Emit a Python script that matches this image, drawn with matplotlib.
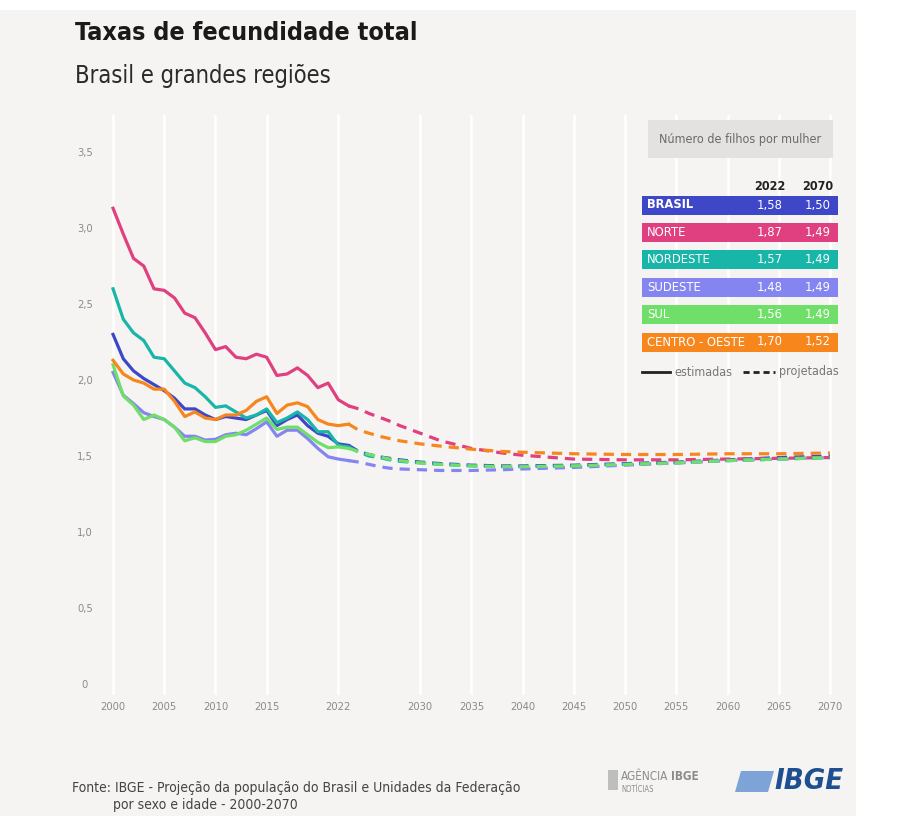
"""
Taxas de fecundidade total - Brasil e grandes regiões (2000-2070).
Estimated series to 2023 (solid), projections from 2023 (dashed).
"""

import matplotlib
matplotlib.use("Agg")
import matplotlib.pyplot as plt
from matplotlib.patches import Rectangle, Polygon

plt.rcParams["font.family"] = ["DejaVu Sans"]
plt.rcParams["font.stretch"] = "condensed"

W, H = 899, 816
BG = "#f5f4f2"

# ---- data -------------------------------------------------------------
YEARS_EST = list(range(2000, 2024))
YEARS_PROJ = [2023, 2024, 2025, 2026, 2027, 2028, 2030, 2032, 2035, 2038,
              2040, 2045, 2050, 2055, 2060, 2065, 2070]

REGIONS = ["BRASIL", "NORTE", "NORDESTE", "SUDESTE", "SUL", "CENTRO - OESTE"]
COLORS = ["#3f47c9", "#e0407f", "#18b5a9", "#8585f2", "#6fdf69", "#f7861d"]

EST_BRASIL = [2.30, 2.14, 2.06, 2.01, 1.97, 1.93, 1.88, 1.81, 1.81, 1.77, 1.74, 1.76,
              1.75, 1.74, 1.77, 1.80, 1.70, 1.74, 1.77, 1.70, 1.65, 1.63, 1.58, 1.57]
EST_NORTE = [3.13, 2.96, 2.80, 2.75, 2.60, 2.59, 2.54, 2.44, 2.41, 2.31, 2.20, 2.22,
             2.15, 2.14, 2.17, 2.15, 2.03, 2.04, 2.08, 2.03, 1.95, 1.98, 1.87, 1.83]
EST_NORDESTE = [2.60, 2.40, 2.31, 2.26, 2.15, 2.14, 2.06, 1.98, 1.95, 1.89, 1.82, 1.83,
                1.79, 1.75, 1.77, 1.81, 1.72, 1.75, 1.79, 1.74, 1.66, 1.66, 1.57, 1.56]
EST_SUDESTE = [2.05, 1.90, 1.845, 1.785, 1.76, 1.74, 1.69, 1.63, 1.63, 1.605, 1.61, 1.64,
               1.65, 1.64, 1.68, 1.725, 1.63, 1.67, 1.67, 1.615, 1.55, 1.495, 1.48, 1.47]
EST_SUL = [2.10, 1.895, 1.835, 1.74, 1.77, 1.74, 1.69, 1.60, 1.62, 1.595, 1.595, 1.63,
           1.64, 1.67, 1.71, 1.75, 1.675, 1.69, 1.69, 1.64, 1.59, 1.555, 1.56, 1.55]
EST_CO = [2.13, 2.04, 2.00, 1.98, 1.94, 1.94, 1.86, 1.76, 1.79, 1.75, 1.74, 1.77,
          1.77, 1.80, 1.86, 1.89, 1.78, 1.835, 1.85, 1.825, 1.74, 1.71, 1.70, 1.71]

PROJ_BRASIL = [1.57, 1.53, 1.51, 1.495, 1.485, 1.475, 1.46, 1.45, 1.44, 1.435,
               1.435, 1.44, 1.45, 1.46, 1.475, 1.49, 1.50]
PROJ_NORTE = [1.83, 1.81, 1.78, 1.755, 1.73, 1.70, 1.65, 1.60, 1.55, 1.52,
              1.505, 1.48, 1.475, 1.475, 1.48, 1.485, 1.49]
PROJ_NORDESTE = [1.56, 1.525, 1.50, 1.49, 1.475, 1.465, 1.455, 1.445, 1.435, 1.43,
                 1.43, 1.435, 1.445, 1.455, 1.47, 1.48, 1.49]
PROJ_SUDESTE = [1.47, 1.46, 1.445, 1.43, 1.42, 1.415, 1.41, 1.405, 1.405, 1.41,
                1.415, 1.425, 1.44, 1.455, 1.47, 1.48, 1.49]
PROJ_SUL = [1.55, 1.53, 1.51, 1.495, 1.48, 1.47, 1.455, 1.445, 1.435, 1.43,
            1.43, 1.435, 1.445, 1.455, 1.47, 1.48, 1.49]
PROJ_CO = [1.71, 1.67, 1.65, 1.63, 1.615, 1.60, 1.58, 1.565, 1.545, 1.53,
           1.525, 1.515, 1.51, 1.51, 1.515, 1.515, 1.52]

EST = [EST_BRASIL, EST_NORTE, EST_NORDESTE, EST_SUDESTE, EST_SUL, EST_CO]
PROJ = [PROJ_BRASIL, PROJ_NORTE, PROJ_NORDESTE, PROJ_SUDESTE, PROJ_SUL, PROJ_CO]

TABLE_2022 = ["1,58", "1,87", "1,57", "1,48", "1,56", "1,70"]
TABLE_2070 = ["1,50", "1,49", "1,49", "1,49", "1,49", "1,52"]

X_TICKS = [2000, 2005, 2010, 2015, 2022, 2030, 2035, 2040, 2045, 2050, 2055, 2060, 2065, 2070]
Y_TICKS = [0, 0.5, 1.0, 1.5, 2.0, 2.5, 3.0, 3.5]


def fig_box(x0, y0, x1, y1):
    """pixel box (top-left origin) -> figure fraction rect"""
    return [x0 / W, 1 - y1 / H, (x1 - x0) / W, (y1 - y0) / H]


fig = plt.figure(figsize=(W / 100, H / 100), dpi=100, facecolor="white")

# card background
bg = fig.add_axes([0, 0, 1, 1], zorder=0)
bg.set_xlim(0, W)
bg.set_ylim(H, 0)
bg.axis("off")
bg.add_patch(Rectangle((0, 10), 856, H - 10, facecolor=BG, edgecolor="none"))

# ---- main chart --------------------------------------------------------
ax = fig.add_axes(fig_box(103, 115, 840, 695), zorder=1)
ax.set_facecolor("none")
ax.set_xlim(1999.02, 2070.98)
ax.set_ylim(-0.072, (684 - 115) / 152)

for est, proj, color in zip(EST, PROJ, COLORS):
    ax.plot(YEARS_EST, est, color=color, lw=2.3, solid_joinstyle="round", zorder=3)
    ax.plot(YEARS_PROJ, proj, color=color, lw=2.3, ls=(0, (3.2, 2.2)), zorder=3)

ax.set_xticks(X_TICKS)
ax.set_xticklabels([str(t) for t in X_TICKS])
ax.set_yticks(Y_TICKS)
ax.set_yticklabels([f"{t:.1f}".replace(".", ",") if t else "0" for t in Y_TICKS])
for lab in ax.get_yticklabels():
    lab.set_horizontalalignment("center")
ax.tick_params(axis="both", length=0, labelsize=8, labelcolor="#8a8a8a")
ax.tick_params(axis="y", pad=13)
ax.tick_params(axis="x", pad=5)
ax.grid(axis="x", color="white", lw=1.8, zorder=0)
ax.set_axisbelow(True)
for spine in ax.spines.values():
    spine.set_visible(False)

# ---- overlay for titles, legend table, footer --------------------------
ov = fig.add_axes([0, 0, 1, 1], zorder=5)
ov.set_xlim(0, W)
ov.set_ylim(H, 0)
ov.axis("off")

ov.text(75, 33, "Taxas de fecundidade total", fontsize=18, fontweight="bold",
        color="#1a1a1a", va="center", ha="left")
ov.text(75, 76, "Brasil e grandes regiões", fontsize=17, color="#2a2a2a",
        va="center", ha="left")

ov.add_patch(Rectangle((648, 120), 185, 38, facecolor="#e3e2e0", edgecolor="none"))
ov.text(740.5, 139, "Número de filhos por mulher", fontsize=9, color="#6a6a6a",
        ha="center", va="center")

ov.text(770, 186, "2022", fontsize=9, fontweight="bold", color="#222222",
        ha="center", va="center")
ov.text(818, 186, "2070", fontsize=9, fontweight="bold", color="#222222",
        ha="center", va="center")

for i, (name, color, v22, v70) in enumerate(zip(REGIONS, COLORS, TABLE_2022, TABLE_2070)):
    yc = 205 + i * 27.4
    ov.add_patch(Rectangle((642, yc - 9.5), 196, 19, facecolor=color, edgecolor="none"))
    ov.text(647, yc, name, fontsize=9.3, color="white", ha="left", va="center",
            fontweight="bold" if i == 0 else "normal")
    ov.text(770, yc, v22, fontsize=9.3, color="white", ha="center", va="center")
    ov.text(818, yc, v70, fontsize=9.3, color="white", ha="center", va="center")

ov.plot([642, 670], [372, 372], color="#222222", lw=2)
ov.text(674, 372, "estimadas", fontsize=9, color="#777777", ha="left", va="center")
ov.plot([743, 775], [372, 372], color="#222222", lw=2, ls=(0, (2.2, 1.4)))
ov.text(779, 372, "projetadas", fontsize=9, color="#777777", ha="left", va="center")

ov.text(72, 788, "Fonte: IBGE - Projeção da população do Brasil e Unidades da Federação",
        fontsize=10, color="#444444", ha="left", va="center")
ov.text(113, 805, "por sexo e idade - 2000-2070", fontsize=10, color="#444444",
        ha="left", va="center")

# footer logos as text
ov.add_patch(Rectangle((608, 770), 10, 20, facecolor="#9a9a9a", edgecolor="none", alpha=0.6))
ov.text(621, 777, "AGÊNCIA", fontsize=8.5, color="#8c8c8c", ha="left", va="center")
ov.text(671, 777, "IBGE", fontsize=8.5, fontweight="bold", color="#8c8c8c", ha="left", va="center")
ov.text(621, 790, "NOTÍCIAS", fontsize=5.5, color="#8c8c8c", ha="left", va="center")
ov.add_patch(Polygon([(741, 771), (774, 771), (768, 792), (735, 792)],
                     closed=True, facecolor="#7ea3d6", edgecolor="none"))
ov.text(774, 781, "IBGE", fontsize=21, fontweight="bold", fontstyle="italic",
        color="#1d4f91", ha="left", va="center")

fig.savefig("out.png", dpi=100, facecolor=fig.get_facecolor())
